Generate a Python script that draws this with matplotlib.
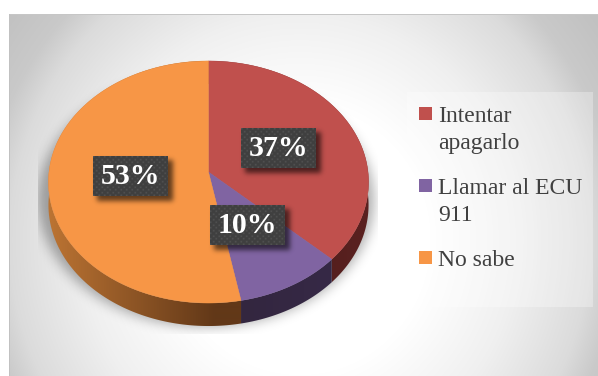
import numpy as np
import matplotlib
matplotlib.use("Agg")
import matplotlib.pyplot as plt
from matplotlib.patches import Polygon, Rectangle
from matplotlib.colors import to_rgb

categories = ["Intentar\napagarlo", "Llamar al ECU\n911", "No sabe"]
values = [37, 10, 53]
top_colors = ["#C0504D", "#8064A2", "#F79646"]
side_light = ["#5A2120", "#372A49", "#BC7433"]
side_dark = ["#4A1B1A", "#33263F", "#623818"]

W, H = 598, 376
# pie geometry in pixels, the hub sits above the ellipse centre because of the tilt
HUB_X, HUB_Y = 208.5, 172
DEPTH = 23
TILT = 0.0826
SCALE_X, SCALE_Y = 159.5, 120.2


def project(theta):
    # theta runs clockwise from 12 o'clock on the unit disc
    u, v = np.sin(theta), np.cos(theta)
    d = 1 + TILT * v
    return HUB_X + SCALE_X * u / d, HUB_Y - SCALE_Y * v / d


def blur(img, sigma):
    n = int(sigma * 3)
    k = np.exp(-0.5 * (np.arange(-n, n + 1) / sigma) ** 2)
    k /= k.sum()
    img = np.apply_along_axis(lambda r: np.convolve(r, k, mode="same"), 0, img)
    return np.apply_along_axis(lambda r: np.convolve(r, k, mode="same"), 1, img)


def draw_shadow(ax, mask, alpha, zorder):
    rgba = np.zeros((H, W, 4))
    rgba[..., 3] = mask * alpha
    ax.imshow(rgba, extent=(0, W, H, 0), zorder=zorder, interpolation="bilinear")


fig = plt.figure(figsize=(W / 100, H / 100), dpi=100)
ax = fig.add_axes([0, 0, 1, 1])
ax.axis("off")

yy, xx = np.mgrid[0:H, 0:W] + 0.5

# radial background of the chart area
r = np.sqrt(((xx - 300) / 290) ** 2 + ((yy - 240) / 300) ** 2)
shade = np.interp(r, [0.45, 0.75, 1.0, 1.1, 1.25], [1, 0.94, 0.86, 0.79, 0.76])
bg = np.dstack([shade] * 3)
bg[(xx < 9) | (yy < 14)] = 1
bg[(yy >= 14) & (yy < 15) & (xx >= 9)] = 0.78
bg[(xx >= 9) & (xx < 10) & (yy >= 14)] = 0.76
ax.imshow(bg, extent=(0, W, H, 0), zorder=0, interpolation="nearest")

# soft shadow below the pie, cut off by its rectangular bounds
sil = (((xx - 206) / 168) ** 2 + ((yy - 200) / 127) ** 2) <= 1
pie_shadow = blur(sil.astype(float), 6)
pie_shadow[(xx < 38) | (xx > 378) | (yy > 334)] = 0
draw_shadow(ax, pie_shadow, 0.32, 1)

# legend panel
ax.add_patch(Rectangle((407, 92), 186, 215, fc="white", ec="none", alpha=0.3, zorder=1.5))

fractions = np.cumsum([0] + values) / sum(values)
angles = fractions * 2 * np.pi

# side wall first, the top surface hides its far half
for i in range(len(values)):
    t = np.linspace(angles[i], angles[i + 1], 200)
    x, y = project(t)
    pts = np.column_stack([np.r_[x, x[::-1]], np.r_[y, y[::-1] + DEPTH]])
    wall = Polygon(pts, closed=True, fc="none", ec="none", transform=ax.transData)
    ax.add_patch(wall)
    px = np.arange(W) + 0.5
    if i < 2:
        f = 1 - np.clip((px - 241) / (368 - 241), 0, 1)
    else:
        f = np.clip((px - 48) / (215 - 48), 0, 1)
    grad = (1 - f)[:, None] * np.array(to_rgb(side_light[i])) + f[:, None] * np.array(to_rgb(side_dark[i]))
    im = ax.imshow(grad[None, :, :], extent=(0, W, H, 0), zorder=2, interpolation="bilinear")
    im.set_clip_path(wall)

for i in range(len(values)):
    t = np.linspace(angles[i], angles[i + 1], 200)
    x, y = project(t)
    pts = np.column_stack([np.r_[HUB_X, x], np.r_[HUB_Y, y]])
    ax.add_patch(Polygon(pts, closed=True, fc=top_colors[i], ec=top_colors[i], lw=0.3, zorder=3))

# data labels: dark dotted boxes with a drop shadow
label_boxes = [(241, 128), (210, 205), (93, 156)]
BOX_W, BOX_H = 75, 40
shadow = np.zeros((H, W))
for bx, by in label_boxes:
    shadow[by + 4:by + BOX_H + 5, bx + 4:bx + BOX_W + 5] = 1
draw_shadow(ax, blur(shadow, 2.5), 0.6, 4)

for (bx, by), val in zip(label_boxes, values):
    tex = np.full((BOX_H * 2, BOX_W * 2, 3), 0.25)
    gy, gx = np.mgrid[0:BOX_H * 2, 0:BOX_W * 2]
    dots = ((gx % 11 < 3) & (gy % 11 < 3)) | (((gx + 5) % 11 < 3) & ((gy + 5) % 11 < 3))
    tex[dots] = 0.33
    ax.imshow(tex, extent=(bx, bx + BOX_W, by + BOX_H, by), zorder=5, interpolation="bilinear")
    ax.text(bx + BOX_W / 2, by + BOX_H / 2 + 0.5, f"{val}%", color="white", fontsize=21.5,
            fontweight="bold", family="Liberation Serif", ha="center", va="center", zorder=6)

# legend entries
legend_y = [107, 179, 251]
for label, color, ly in zip(categories, top_colors, legend_y):
    ax.add_patch(Rectangle((419, ly), 13, 13, fc=color, ec="none", zorder=3))
    ax.text(438, ly - 1.5, label, color="#404040", fontsize=17, family="Liberation Serif",
            ha="left", va="top", linespacing=1.4, zorder=3)

ax.set_xlim(0, W)
ax.set_ylim(H, 0)
ax.set_aspect("auto")
fig.savefig("out.png", dpi=100)
